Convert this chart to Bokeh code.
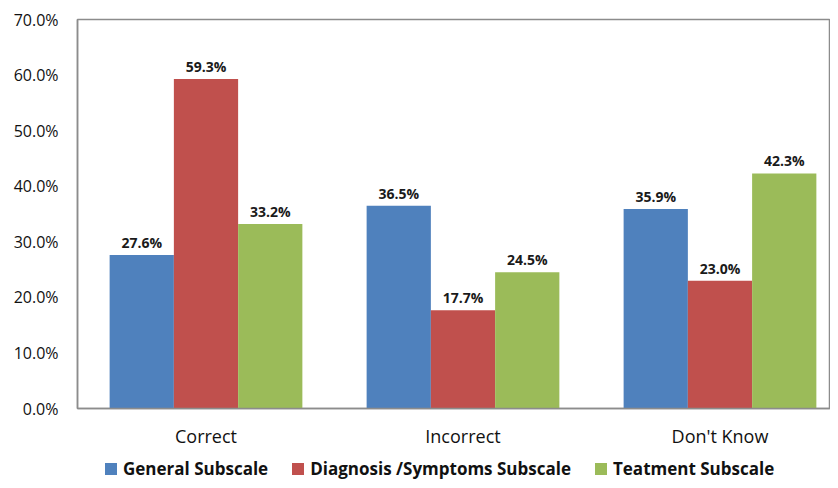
from bokeh.plotting import figure
from bokeh.models import ColumnDataSource, Range1d, FixedTicker, Legend, LegendItem
from bokeh.layouts import column
from bokeh.core.properties import value
from bokeh.embed import file_html
from bokeh.resources import INLINE
import numpy as np

categories = ["Correct", "Incorrect", "Don't Know"]
series_names = ["General Subscale", "Diagnosis /Symptoms Subscale", "Teatment Subscale"]
general = [27.6, 36.5, 35.9]
diagnosis = [59.3, 17.7, 23.0]
treatment = [33.2, 24.5, 42.3]
colors = ["#4F81BD", "#C0504D", "#9BBB59"]
y_ticks = [0, 10, 20, 30, 40, 50, 60, 70]

FONT = "Open Sans"
AXIS_COL = "#8c8c8c"

p = figure(width=830, height=455, output_backend="svg", toolbar_location=None,
           x_range=Range1d(0, 2.93), y_range=Range1d(0, 70),
           min_border_left=77, min_border_right=0, min_border_top=19, min_border_bottom=47)

p.outline_line_color = AXIS_COL
p.outline_line_width = 1.5
p.xgrid.visible = False
p.ygrid.visible = False

centers = np.arange(len(categories)) + 0.5
bar_w = 0.25
offsets = [-bar_w, 0.0, bar_w]
all_series = [general, diagnosis, treatment]

for vals, name, col, off in zip(all_series, series_names, colors, offsets):
    src = ColumnDataSource(dict(x=centers + off, top=vals,
                                lbl=["%.1f%%" % v for v in vals]))
    p.vbar(x="x", top="top", width=bar_w, source=src, fill_color=col,
           line_color=None)
    p.text(x="x", y="top", text="lbl", source=src, text_align="center",
           text_baseline="bottom", y_offset=-3, text_font=value(FONT),
           text_font_size="14px", text_font_style="bold", text_color="#1a1a1a")

# axes
p.xaxis.ticker = FixedTicker(ticks=list(centers))
p.xaxis.major_label_overrides = {float(c): cat for c, cat in zip(centers, categories)}
p.xaxis.major_label_text_font = FONT
p.xaxis.major_label_text_font_size = "18px"
p.xaxis.major_label_text_color = "#111111"
p.xaxis.major_label_standoff = 9
p.xaxis.major_tick_line_color = None
p.xaxis.minor_tick_line_color = None
p.xaxis.axis_line_color = AXIS_COL
p.xaxis.axis_line_width = 1.5

p.yaxis.ticker = FixedTicker(ticks=y_ticks)
p.yaxis.major_label_overrides = {t: "%.1f%%" % t for t in y_ticks}
p.yaxis.major_label_text_font = FONT
p.yaxis.major_label_text_font_size = "16px"
p.yaxis.major_label_text_color = "#111111"
p.yaxis.major_label_standoff = 13
p.yaxis.major_tick_line_color = None
p.yaxis.minor_tick_line_color = None
p.yaxis.axis_line_color = AXIS_COL
p.yaxis.axis_line_width = 1.5

# legend strip (its frame is aligned with the chart frame by the column layout)
lg = figure(width=830, height=25, output_backend="svg", toolbar_location=None,
            x_range=Range1d(0, 1), y_range=Range1d(0, 1),
            min_border_left=0, min_border_right=0, min_border_top=0, min_border_bottom=0)
lg.axis.visible = False
lg.grid.visible = False
lg.outline_line_color = None
items = []
for name, col in zip(series_names, colors):
    r = lg.vbar(x=[-10], top=[-5], bottom=[-6], width=0.1, fill_color=col, line_color=None)
    items.append(LegendItem(label=name, renderers=[r]))

legend = Legend(items=items, orientation="horizontal", location=(26, 0),
                label_text_font=FONT, label_text_font_size="17px", label_text_font_style="bold",
                label_text_color="#111111", glyph_width=15, glyph_height=15,
                spacing=22, label_standoff=5, border_line_color=None,
                background_fill_alpha=0, padding=0, margin=0, label_height=15)
lg.add_layout(legend, "center")

layout = column(p, lg, spacing=0)
open("out.html", "w").write(file_html(layout, INLINE))
